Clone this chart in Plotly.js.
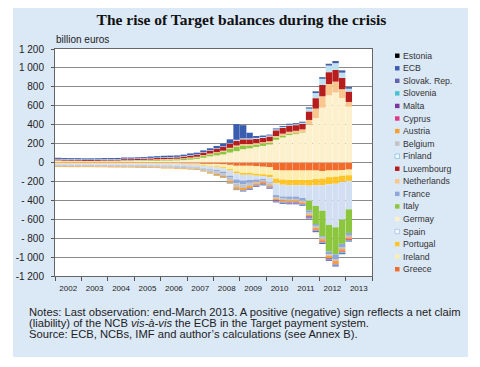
<!DOCTYPE html>
<html><head><meta charset="utf-8">
<script src="https://cdn.plot.ly/plotly-3.0.1.min.js"></script>
<style>
html,body{margin:0;padding:0;background:#fff;}
#panel{position:absolute;left:13px;top:8px;width:455px;height:349px;background:#dbe8f6;}
#chart{position:absolute;left:0;top:0;width:480px;height:367px;}
</style></head>
<body><div id="panel"></div><div id="chart"></div>
<script>
// Quarter centres, 2002Q1 .. 2013Q1
const quarters = [
'2002-02-15','2002-05-15','2002-08-15','2002-11-15',
'2003-02-15','2003-05-15','2003-08-15','2003-11-15',
'2004-02-15','2004-05-15','2004-08-15','2004-11-15',
'2005-02-15','2005-05-15','2005-08-15','2005-11-15',
'2006-02-15','2006-05-15','2006-08-15','2006-11-15',
'2007-02-15','2007-05-15','2007-08-15','2007-11-15',
'2008-02-15','2008-05-15','2008-08-15','2008-11-15',
'2009-02-15','2009-05-15','2009-08-15','2009-11-15',
'2010-02-15','2010-05-15','2010-08-15','2010-11-15',
'2011-02-15','2011-05-15','2011-08-15','2011-11-15',
'2012-02-15','2012-05-15','2012-08-15','2012-11-15',
'2013-02-15'];

// billion euros
const greece = [-5,-5,-6,-6, -6,-6,-7,-7, -7,-7,-8,-8, -8,-8,-9,-9, -10,-10,-10,-12, -12,-12,-15,-15, -15,-20,-25,-35, -35,-35,-40,-45, -50,-80,-85,-85, -85,-85,-85,-85, -90,-85,-85,-80, -75];
const ireland = [-5,-5,-5,-5, -5,-5,-5,-5, -5,-5,-5,-5, -5,-5,-5,-5, -5,-5,-5,-5, -8,-10,-15,-20, -25,-30,-45,-60, -75,-75,-80,-80, -80,-90,-95,-100, -100,-100,-100,-90, -80,-70,-65,-60, -60];
const portugal = [-5,-5,-5,-5, -5,-5,-5,-5, -5,-5,-5,-5, -5,-5,-5,-5, -5,-5,-5,-5, -5,-5,-8,-8, -10,-12,-15,-20, -20,-20,-20,-20, -25,-50,-55,-55, -55,-55,-60,-65, -70,-75,-75,-65, -60];
const spain = [-10,-10,-10,-10, -10,-10,-10,-10, -12,-12,-12,-12, -12,-14,-14,-15, -15,-15,-18,-20, -20,-20,-25,-30, -30,-35,-55,-65, -60,-55,-40,-30, -55,-125,-125,-120, -120,-135,-160,-220, -270,-430,-460,-400, -300];
const germany = [15,12,12,12, 10,10,10,12, 12,12,14,14, 15,15,16,18, 20,20,22,25, 30,38,50,65, 75,85,105,120, 140,150,165,175, 190,240,265,290, 300,315,400,470, 580,710,740,680, 590];
const italy = [3,3,2,2, 2,2,3,3, 3,4,5,5, 6,8,8,10, 10,12,12,14, 15,15,18,20, 25,30,40,45, 40,30,25,25, 20,25,20,15, 10,5,-100,-190, -270,-280,-285,-255, -250];
const france = [-5,-5,-5,-5, -5,-5,-5,-5, -5,-5,-5,-5, -5,-5,-5,-5, -5,-5,-5,-5, -5,-5,-5,-10, -15,-15,-20,-40, -40,-30,-20,-10, -10,-20,-20,-25, -25,-25,-25,-20, -15,-30,-50,-40, -30];
const netherlands = [5,5,5,5, 5,5,5,5, 5,5,5,5, 5,5,6,6, 6,6,6,6, 8,8,10,10, 10,10,10,15, 15,15,15,15, 15,15,20,20, 25,30,50,100, 120,120,115,95, 50];
const luxembourg = [10,10,10,10, 10,10,10,10, 10,10,12,12, 12,12,14,14, 15,15,15,18, 20,20,25,30, 35,40,45,50, 50,50,45,45, 50,60,60,65, 60,60,90,110, 120,125,125,120, 110];
const finland = [5,5,5,5, 5,5,5,5, 5,5,5,5, 5,5,5,5, 5,5,5,5, 5,5,5,5, 5,5,5,10, 10,10,10,10, 10,10,10,10, 10,10,30,55, 65,70,70,55, 30];
const belgium = [-10,-10,-10,-10, -10,-10,-10,-10, -10,-10,-10,-10, -12,-12,-12,-12, -15,-15,-15,-15, -15,-15,-15,-20, -25,-30,-35,-40, -40,-35,-20,-20, -20,-20,-20,-20, -20,-20,-20,-20, -15,-15,-20,-15, -15];
const austria = [-8,-8,-8,-8, -8,-8,-8,-8, -8,-8,-8,-8, -8,-8,-8,-8, -8,-8,-8,-8, -8,-10,-10,-12, -15,-15,-20,-20, -20,-20,-15,-15, -15,-15,-15,-15, -15,-15,-15,-20, -25,-25,-30,-25, -20];
const cyprus = [-2,-2,-3,-5, -5,-5,-5,-5, -5,-5,-5,-5, -5,-5,-8,-8, -8,-8,-8,-8, -8];          // from 2008Q1
const malta = [-1,-1,-1,-2, -2,-2,-2,-2, -2,-2,-2,-2, -2,-2,-2,-2, -2,-2,-2,-2, -2];            // from 2008Q1
const slovenia = [-2,-2,-3,-3, -3,-4,-5,-5, -5,-5,-5,-5, -5,-5,-5,-5, -5,-5,-5,-5, -5,-8,-8,-8, -6]; // from 2007Q1
const slovak = [-5,-8,-10,-10, -10,-10,-10,-10, -10,-10,-12,-12, -12,-12,-12,-12, -10];          // from 2009Q1
const ecb = [12,12,12,12, 12,12,12,12, 12,12,12,12, 12,12,14,14, 15,15,15,15, 18,18,20,20, 25,30,40,165, 140,60,20,15, 10,10,10,10, 10,10,10,15, 15,15,20,20, 15];
const estonia = [1,1,2,2, 2,3,3,3, 3];                                                            // from 2011Q1

const yTickVals = [-1200,-1000,-800,-600,-400,-200,0,200,400,600,800,1000,1200];
const yTickText = ['-1 200','-1 000','- 800','- 600','- 400','- 200','0','200','400','600','800','1 000','1 200'];

// stacking order (first = nearest zero)
const series = [
 {name:'Greece', y:greece, x:quarters, color:'#f26b2b'},
 {name:'Ireland', y:ireland, x:quarters, color:'#fdeeb0'},
 {name:'Portugal', y:portugal, x:quarters, color:'#ffc526'},
 {name:'Spain', y:spain, x:quarters, color:'#d2def2', line:'#a9c2e8', swatch:'#f6f8fc'},
 {name:'Germay', y:germany, x:quarters, color:'#fcf1cc'},
 {name:'Italy', y:italy, x:quarters, color:'#8cc63f'},
 {name:'France', y:france, x:quarters, color:'#8fa7d8'},
 {name:'Netherlands', y:netherlands, x:quarters, color:'#f9c68d'},
 {name:'Luxembourg', y:luxembourg, x:quarters, color:'#b71d1d'},
 {name:'Finland', y:finland, x:quarters, color:'#bfe2f2', line:'#8cc3e3', swatch:'#f4f9fd'},
 {name:'Belgium', y:belgium, x:quarters, color:'#c3c3c3'},
 {name:'Austria', y:austria, x:quarters, color:'#f6a02f'},
 {name:'Cyprus', y:cyprus, x:quarters.slice(24), color:'#e4348a'},
 {name:'Malta', y:malta, x:quarters.slice(24), color:'#77379b'},
 {name:'Slovenia', y:slovenia, x:quarters.slice(20), color:'#48c2cf'},
 {name:'Slovak. Rep.', y:slovak, x:quarters.slice(28), color:'#6164ad'},
 {name:'ECB', y:ecb, x:quarters, color:'#3a5db0'},
 {name:'Estonia', y:estonia, x:quarters.slice(36), color:'#000000'}
];

const W = 88*86400000;
const traces = series.map(s => ({
  type:'bar', name:s.name, x:s.x, y:s.y,
  width: s.x.map(()=>W),
  marker:{color:s.color, line:{width:0}},
  hoverinfo:'skip', showlegend:false
}));

// pixel -> paper helpers
const PL=55, PR=372, PT=49, PB=276;
const px = v => (v-PL)/(PR-PL);
const py = v => (PB-v)/(PB-PT);

const shapes = [];
const annotations = [];
const legendOrder = series.slice().reverse();
legendOrder.forEach((s,i)=>{
  const cy = 55.7 + i*12.56;
  shapes.push({type:'rect', xref:'paper', yref:'paper',
    x0:px(395), x1:px(399.5), y0:py(cy+2.2), y1:py(cy-2.2),
    fillcolor:s.swatch||s.color, line:{color:s.line||s.color, width:s.line?0.8:0}});
  annotations.push({xref:'paper', yref:'paper', x:px(400.5), y:py(cy), xanchor:'left', yanchor:'middle',
    text:s.name, showarrow:false, font:{family:'Liberation Sans, Arial, sans-serif', size:8.7, color:'#333'}});
});
annotations.push({xref:'paper', yref:'paper', x:px(54), y:py(40), xanchor:'left', yanchor:'middle',
  text:'billion euros', showarrow:false, font:{family:'Liberation Sans, Arial, sans-serif', size:10, color:'#222'}});
const notes = [
 'Notes: Last observation: end-March 2013. A positive (negative) sign reflects a net claim',
 '(liability) of the NCB <i>vis-à-vis</i> the ECB in the Target payment system.',
 'Source: ECB, NCBs, IMF and author\u2019s calculations (see Annex B).'];
notes.forEach((t,i)=>annotations.push({xref:'paper', yref:'paper', x:px(26.5), y:py(311.5+i*11), xanchor:'left', yanchor:'middle',
  text:t, showarrow:false, font:{family:'Liberation Sans, Arial, sans-serif', size:11.2, color:'#222'}}));

const layout = {
  width:480, height:367,
  margin:{l:PL, r:480-PR, t:PT, b:367-PB, pad:0},
  paper_bgcolor:'rgba(0,0,0,0)', plot_bgcolor:'#ffffff',
  barmode:'relative',
  title:{text:'The rise of Target balances during the crisis', x:241.5/480, xref:'container', xanchor:'center',
    y:1-20/367, yref:'container', yanchor:'middle',
    font:{family:'Liberation Serif, Times New Roman, serif', size:15.5, weight:'bold', color:'#111'}},
  xaxis:{type:'date', range:['2002-01-01','2014-01-01'], tick0:'2002-01-01', dtick:'M12', tickformat:'%Y',
    ticklabelmode:'period', ticks:'outside', ticklen:4, tickcolor:'#555', showgrid:false,
    showline:true, linecolor:'#666', linewidth:1, mirror:true,
    tickfont:{family:'Liberation Sans, Arial, sans-serif', size:8, color:'#222'}, fixedrange:true},
  yaxis:{range:[-1200,1200], tickvals:yTickVals, ticktext:yTickText, ticks:'outside', ticklen:3, tickcolor:'#555',
    showgrid:true, gridcolor:'#8a8a8a', gridwidth:1, zeroline:true, zerolinecolor:'#8a8a8a', zerolinewidth:1,
    showline:true, linecolor:'#666', linewidth:1, mirror:true, ticklabelstandoff:5,
    tickfont:{family:'Liberation Sans, Arial, sans-serif', size:10, color:'#222'}, fixedrange:true},
  shapes:shapes, annotations:annotations, showlegend:false
};
Plotly.newPlot('chart', traces, layout, {staticPlot:true, displayModeBar:false});
</script></body></html>
